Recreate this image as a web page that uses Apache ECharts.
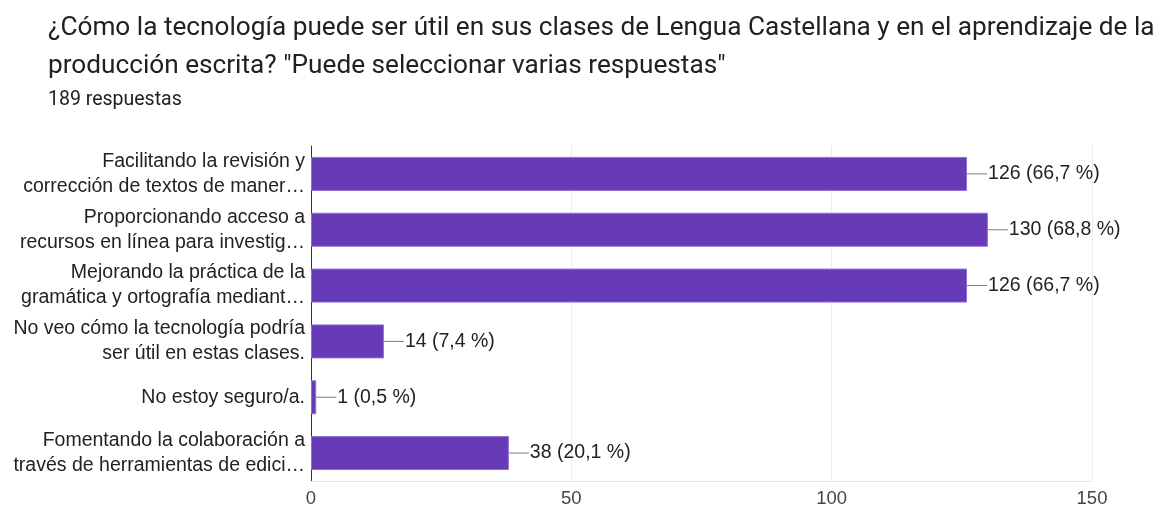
<!DOCTYPE html>
<html>
<head>
<meta charset="utf-8">
<script src="https://cdn.jsdelivr.net/npm/echarts@6/dist/echarts.min.js"></script>
<style>
html,body{margin:0;padding:0;background:#fff;}
#main{width:1166px;height:510px;}
</style>
</head>
<body>
<div id="main"></div>
<script>
const titleLines = ['¿Cómo la tecnología puede ser útil en sus clases de Lengua Castellana y en el aprendizaje de la', 'producción escrita? "Puede seleccionar varias respuestas"'];
const subtitle = '189 respuestas';
const categories = [
  'Facilitando la revisión y\ncorrección de textos de maner…',
  'Proporcionando acceso a\nrecursos en línea para investig…',
  'Mejorando la práctica de la\ngramática y ortografía mediant…',
  'No veo cómo la tecnología podría\nser útil en estas clases.',
  'No estoy seguro/a.',
  'Fomentando la colaboración a\ntravés de herramientas de edici…'
];
const values = [126, 130, 126, 14, 1, 38];
const percents = ['66,7', '68,8', '66,7', '7,4', '0,5', '20,1'];
const xTicks = [0, 50, 100, 150];

const chart = echarts.init(document.getElementById('main'));
chart.setOption({
  animation: false,
  title: [
    {text: titleLines.join('\n'), left: 43, top: 4, textStyle: {fontFamily: 'Roboto', fontSize: 26.2, fontWeight: 'normal', color: '#202124', lineHeight: 38}},
    {text: subtitle, left: 43, top: 85, textStyle: {fontFamily: 'Roboto', fontSize: 19.5, fontWeight: 'normal', color: '#202124', lineHeight: 20}}
  ],
  grid: {left: 311, right: 74, top: 146, bottom: 29, containLabel: false, outerBoundsMode: 'none'},
  xAxis: {
    type: 'value', min: xTicks[0], max: xTicks[xTicks.length - 1], interval: xTicks[1] - xTicks[0],
    axisLine: {show: true, lineStyle: {color: '#e8e8e8', width: 1}}, axisTick: {show: false},
    splitLine: {show: true, lineStyle: {color: '#ebebeb', width: 1}},
    axisLabel: {fontFamily: 'Liberation Sans', fontSize: 18.5, color: '#444', margin: 8}
  },
  yAxis: {
    type: 'category', data: categories, inverse: true,
    axisLine: {show: true, onZero: false, lineStyle: {color: '#333', width: 1}},
    axisTick: {show: false},
    axisLabel: {fontFamily: 'Liberation Sans', fontSize: 19.5, color: '#222', lineHeight: 25, margin: 6, align: 'right'}
  },
  series: [
    {
      type: 'bar', data: values, barWidth: 34,
      itemStyle: {color: '#673ab7', borderColor: '#8f6fd3', borderWidth: 1}
    },
    {
      type: 'custom',
      data: values.map((v, i) => [v, i]),
      renderItem: function (params, api) {
        const v = api.value(0), i = api.value(1);
        const p = api.coord([v, i]);
        const len = 20;
        return {
          type: 'group',
          children: [
            {type: 'line', shape: {x1: p[0], y1: p[1], x2: p[0] + len, y2: p[1]}, style: {stroke: '#7a7a7a', lineWidth: 1}},
            {type: 'text', x: p[0] + len + 1, y: p[1], style: {text: values[i] + ' (' + percents[i] + ' %)', fill: '#222', font: '19.5px "Liberation Sans"', verticalAlign: 'middle', align: 'left'}}
          ]
        };
      },
      z: 10
    }
  ]
});
</script>
</body>
</html>
